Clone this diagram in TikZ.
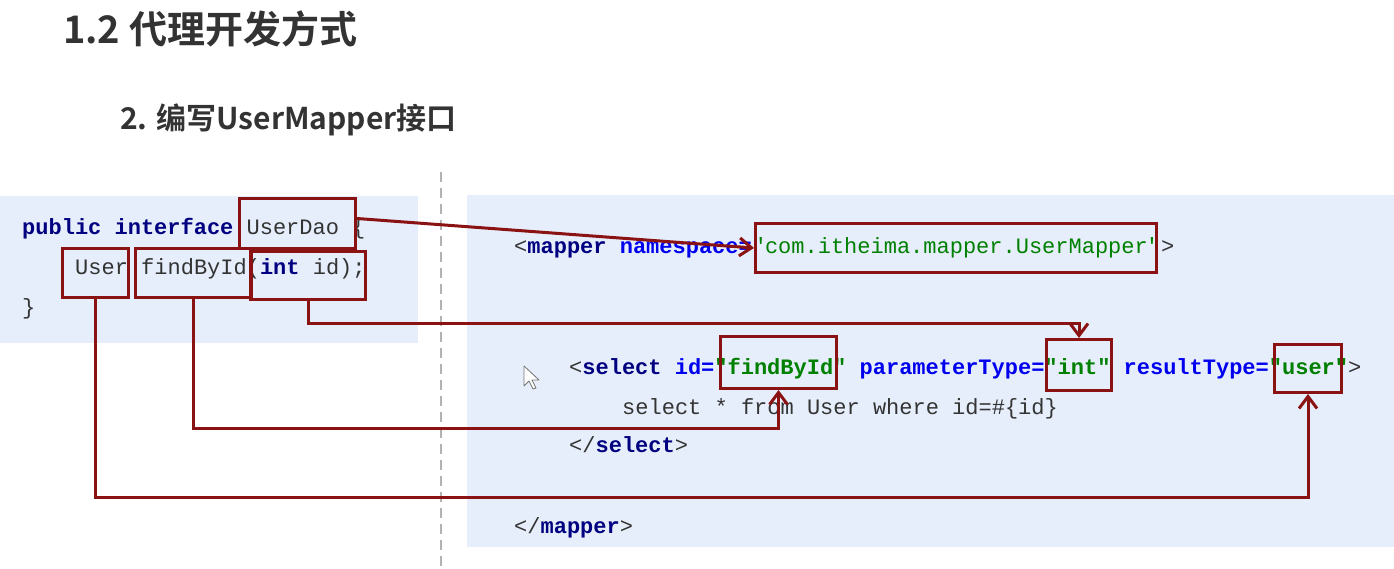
\documentclass[tikz,border=0pt]{standalone}
\usepackage{fontspec}
\setmonofont{Liberation Mono}
\newfontfamily\cjk{Noto Sans CJK SC}[BoldFont={Noto Sans CJK SC Bold}]
\usetikzlibrary{arrows.meta}
\definecolor{panel}{HTML}{E6EEFB}
\definecolor{kw}{HTML}{000080}
\definecolor{attr}{HTML}{0000EE}
\definecolor{str}{HTML}{008000}
\definecolor{plain}{HTML}{333333}
\definecolor{mark}{HTML}{8A1212}
\definecolor{title}{HTML}{333333}
\newcommand{\K}[1]{\textcolor{kw}{\bfseries #1}}
\newcommand{\A}[1]{\textcolor{attr}{\bfseries #1}}
\newcommand{\Sv}[1]{\textcolor{str}{#1}}
\newcommand{\Sb}[1]{\textcolor{str}{\bfseries #1}}
\begin{document}
\begin{tikzpicture}[x=1pt,y=-1pt,
  code/.style={anchor=base west,inner sep=0pt,font=\ttfamily\fontsize{22}{26}\selectfont,text=plain},
  rbox/.style={draw=mark,line width=3pt,anchor=north west,inner sep=0pt},
  conn/.style={draw=mark,line width=3pt,-{Straight Barb[length=12pt,width=18pt,line width=3pt]}},
  ttl/.style={anchor=base west,inner sep=0pt,text=title}]
\useasboundingbox (0,0) rectangle (1394,569);
\fill[white] (0,0) rectangle (1394,569);
% panels
\fill[panel] (0,196) rectangle (418,343);
\fill[panel] (467,195) rectangle (1394,547);
\draw[draw=black!30,line width=1.2pt,dash pattern=on 10pt off 6pt] (441,172) -- (441,569);
% titles
\node[ttl,font=\cjk\bfseries\fontsize{38}{42}\selectfont] (t1) at (63,44) {1.2 代理开发方式};
\node[ttl,font=\cjk\bfseries\fontsize{30}{34}\selectfont] (t2) at (120,130) {2. 编写UserMapper接口};
% left code
\node[code] (l1) at (22,235) {\K{public} \K{interface} UserDao \{};
\node[code] (l2) at (75,275) {User findById(\K{int} id);};
\node[code] (l3) at (22,314) {\}};
% right code
\node[code] (r1) at (514,254) {<\K{mapper} \A{namespace=}\Sv{"com.itheima.mapper.UserMapper"}>};
\node[code] (r2) at (569,374) {<\K{select} \A{id=}\Sb{"findById"} \A{parameterType=}\Sb{"int"} \A{resultType=}\Sb{"user"}>};
\node[code] (r3) at (622,414) {select * from User where id=\#\{id\}};
\node[code] (r4) at (569,452) {</\K{select}>};
\node[code] (r5) at (514,533) {</\K{mapper}>};
% cursor
\draw[fill=white,draw=black!55,line width=0.8pt,line join=round] (524,366) -- (524,386) -- (529,381) -- (533,389) -- (536,388) -- (532,380) -- (539,380) -- cycle;
% boxes
\node[rbox,minimum width=116pt,minimum height=50pt] (bDao) at (238,197) {};
\node[rbox,minimum width=66pt,minimum height=49pt] (bUser) at (61,247) {};
\node[rbox,minimum width=116pt,minimum height=49pt] (bFind) at (134,247) {};
\node[rbox,minimum width=115pt,minimum height=48pt] (bInt) at (249,250) {};
\node[rbox,minimum width=401pt,minimum height=49pt] (bNs) at (754,222) {};
\node[rbox,minimum width=116pt,minimum height=52pt] (bFind2) at (719,335) {};
\node[rbox,minimum width=65pt,minimum height=51pt] (bInt2) at (1045,338) {};
\node[rbox,minimum width=67pt,minimum height=48pt] (bUser2) at (1273,343) {};
% connectors
\draw[conn] ([yshift=5pt]bDao.east) -- (bNs.west);
\draw[conn] (bInt.south) -- ++(0,22) -| (bInt2.north);
\draw[conn] (bFind.south) -- ++(0,129) -| (bFind2.south);
\draw[conn] (bUser.south) -- ++(0,198) -| (bUser2.south);
\end{tikzpicture}
\end{document}
